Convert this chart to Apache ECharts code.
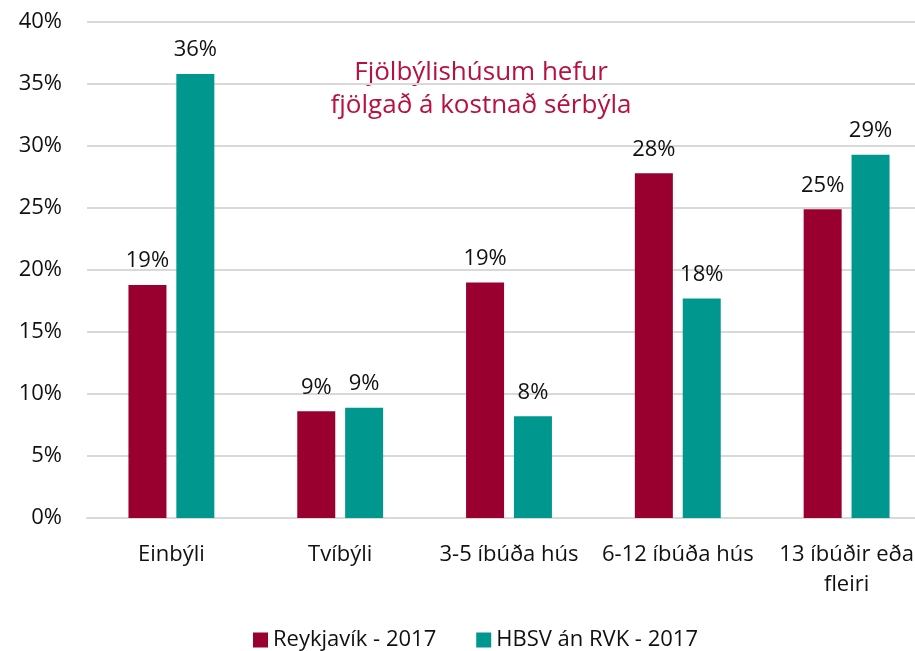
<!DOCTYPE html>
<html>
<head>
<meta charset="utf-8">
<script src="https://cdn.jsdelivr.net/npm/echarts@6/dist/echarts.min.js"></script>
<style>
  html, body { margin: 0; padding: 0; background: #fff; }
  #main { width: 915px; height: 651px; }
</style>
</head>
<body>
<div id="main"></div>
<script>
const categories = ['Einbýli', 'Tvíbýli', '3-5 íbúða hús', '6-12 íbúða hús', '13 íbúðir eða\nfleiri']
const reykjavik = [18.8, 8.6, 19.0, 27.8, 24.9]
const hbsv = [35.8, 8.9, 8.2, 17.7, 29.3]
const seriesNames = ['Reykjavík - 2017', 'HBSV án RVK - 2017']
const note = 'Fjölbýlishúsum hefur\nfjölgað á kostnað sérbýla'

const font = '"Open Sans", "Noto Sans", sans-serif'

const chart = echarts.init(document.getElementById('main'))

const barLabel = {
  show: true,
  position: 'top',
  distance: 13,
  color: '#111',
  fontSize: 22,
  fontFamily: font,
  formatter: p => Math.round(p.value) + '%'
}

const options = {
  animation: false,
  textStyle: { fontFamily: font },
  // plot runs past the right edge, like the original
  grid: { left: 87, width: 844, top: 22, bottom: 133, outerBoundsMode: 'none' },
  legend: {
    bottom: -5,
    left: 248,
    itemWidth: 15,
    itemHeight: 15,
    itemGap: 40,
    icon: 'rect',
    textStyle: { fontSize: 22, color: '#111', fontFamily: font },
    data: seriesNames
  },
  xAxis: {
    type: 'category',
    data: categories,
    axisTick: { show: false },
    axisLine: { lineStyle: { color: '#d9d9d9', width: 2 } },
    axisLabel: { fontSize: 22, color: '#111', margin: 22, lineHeight: 30, fontFamily: font, interval: 0 }
  },
  yAxis: {
    type: 'value',
    min: 0,
    max: 40,
    interval: 5,
    axisLabel: { fontSize: 22, color: '#111', margin: 25, formatter: v => v + '%', fontFamily: font },
    splitLine: { lineStyle: { color: '#d9d9d9', width: 2 } },
    axisLine: { show: false },
    axisTick: { show: false }
  },
  graphic: [{
    type: 'text',
    x: 481,
    y: 56,
    style: {
      text: note,
      fill: '#b8103f',
      fontSize: 26,
      fontFamily: font,
      textAlign: 'center',
      lineHeight: 33
    }
  }],
  series: [
    {
      name: seriesNames[0],
      type: 'bar',
      data: reykjavik,
      barWidth: 38,
      barGap: '26%',
      itemStyle: { color: '#990030' },
      label: barLabel
    },
    {
      name: seriesNames[1],
      type: 'bar',
      data: hbsv,
      barWidth: 38,
      itemStyle: { color: '#00978f' },
      label: barLabel
    }
  ]
}

chart.setOption(options)
</script>
</body>
</html>
